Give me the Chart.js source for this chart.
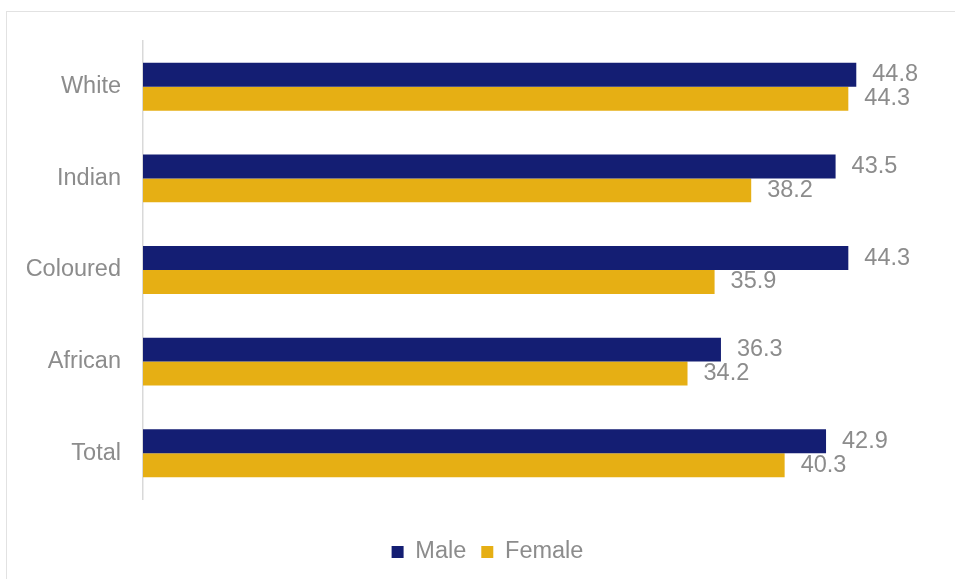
<!DOCTYPE html>
<html>
<head>
<meta charset="utf-8">
<script src="https://cdn.jsdelivr.net/npm/chart.js@4.4.1/dist/chart.umd.min.js"></script>
<style>
  body { margin: 0; background: #fff; overflow: hidden; }
  .wrap { position: relative; width: 955px; height: 579px; }
  .frame {
    position: absolute; left: 6px; top: 11px; width: 1000px; height: 620px;
    border: 1.5px solid #e2e2e2; box-sizing: border-box;
  }
  #ageChart { position: absolute; left: 0; top: 0; }
</style>
</head>
<body>
<div class="wrap">
  <div class="frame"></div>
  <canvas id="ageChart" width="955" height="579"></canvas>
</div>
<script>
// ===== Median age by population group and sex =====
const groups = ["White", "Indian", "Coloured", "African", "Total"];
const maleValues = [44.8, 43.5, 44.3, 36.3, 42.9];
const femaleValues = [44.3, 38.2, 35.9, 34.2, 40.3];

const FONT = '"Liberation Sans", Arial, sans-serif';
const GREY = "#8c8c8c";

// value labels at the end of each bar
const barValueLabels = {
  id: "barValueLabels",
  afterDatasetsDraw(chart) {
    const ctx = chart.ctx;
    ctx.save();
    ctx.font = "23.5px " + FONT;
    ctx.fillStyle = GREY;
    ctx.textAlign = "left";
    ctx.textBaseline = "middle";
    chart.data.datasets.forEach((ds, i) => {
      chart.getDatasetMeta(i).data.forEach((bar, j) => {
        ctx.fillText(ds.data[j].toFixed(1), bar.x + 16, bar.y);
      });
    });
    ctx.restore();
  },
};

new Chart(document.getElementById("ageChart"), {
  type: "bar",
  data: {
    labels: groups,
    datasets: [
      {
        label: "Male",
        data: maleValues,
        backgroundColor: "#141e73",
        borderWidth: 0,
        categoryPercentage: 0.523,
        barPercentage: 1,
      },
      {
        label: "Female",
        data: femaleValues,
        backgroundColor: "#e6af14",
        borderWidth: 0,
        categoryPercentage: 0.523,
        barPercentage: 1,
      },
    ],
  },
  options: {
    indexAxis: "y",
    responsive: false,
    animation: false,
    layout: { padding: { left: 20, right: 0, top: 41, bottom: 5.25 } },
    plugins: {
      tooltip: { enabled: false },
      legend: {
        position: "bottom",
        labels: {
          boxWidth: 12,
          boxHeight: 12,
          padding: 15,
          color: GREY,
          font: { family: FONT, size: 23.5 },
        },
      },
    },
    scales: {
      x: {
        min: 0,
        max: 51,
        grid: { display: false, drawTicks: false },
        border: { display: false },
        ticks: { display: false },
        afterFit: (s) => { s.height = 26.25; },
      },
      y: {
        grid: { display: false, drawTicks: false },
        border: { display: true, color: "#d9d9d9", width: 1.5 },
        ticks: {
          padding: 22,
          color: GREY,
          font: { family: FONT, size: 23.5 },
        },
        afterFit: (s) => { s.width = 123; },
      },
    },
  },
  plugins: [barValueLabels],
});
</script>
</body>
</html>
